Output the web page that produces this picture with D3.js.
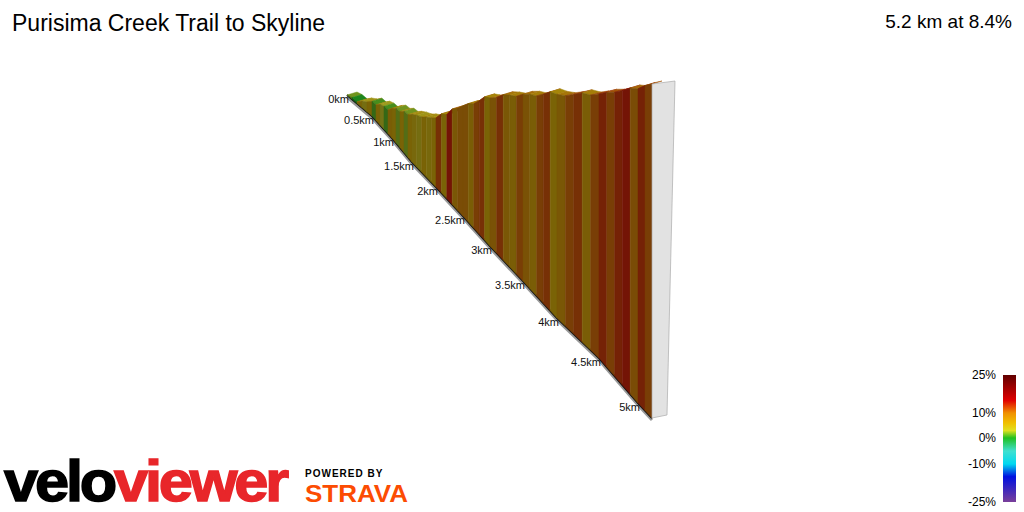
<!DOCTYPE html>
<html>
<head>
<meta charset="UTF-8">
<script src="https://d3js.org/d3.v7.min.js"></script>
<style>
  body { margin: 0; background: #fff; }
  text { font-family: "Liberation Sans", Arial, sans-serif; }
</style>
</head>
<body>
<svg id="chart" width="1024" height="512"></svg>
<script>
// distance (km) and elevation gain (m)
const distKm = [0, 0.1, 0.2, 0.3, 0.4, 0.5, 0.6, 0.7, 0.8, 0.9, 1.0, 1.1, 1.2, 1.3, 1.4, 1.5, 1.6, 1.7, 1.8, 1.9, 2.0,
                2.1, 2.2, 2.3, 2.4, 2.5, 2.6, 2.7, 2.8, 2.9, 3.0, 3.1, 3.2, 3.3, 3.4, 3.5, 3.6, 3.7, 3.8, 3.9, 4.0,
                4.1, 4.2, 4.3, 4.4, 4.5, 4.6, 4.7, 4.8, 4.9, 5.0, 5.1, 5.2];
const elev = [0, 2, 2, 8, 12, 18, 19, 25, 28, 29, 36, 42, 44, 50, 52, 58, 63, 67, 73, 78, 84,
              96, 102, 116, 124, 134, 144, 151, 162, 174, 180, 189, 201, 209, 216, 227, 236, 243, 254, 266, 272,
              280, 291, 303, 310, 321, 334, 345, 358, 372, 382, 395, 406];
const kmTicks = [0, 0.5, 1, 1.5, 2, 2.5, 3, 3.5, 4, 4.5, 5];
// where each tick sits along the receding baseline (perspective)
const baseX = [347, 372, 392, 412, 436, 463, 490, 523, 557, 599, 638, 652];
const baseY = [95, 116, 138, 162, 187, 216, 246, 281, 318, 358, 403, 418];
const legendPct = [25, 10, 0, -10, -25];
const gradStops = [-25, -15, -10, -5, 0, 3, 6, 10, 15, 25];
const gradColors = ["#7a3f9a", "#0010e0", "#00d8f0", "#40e0d0", "#20c020", "#e0e020", "#f0c000", "#f09000", "#e00000", "#600000"];
const title = "Purisima Creek Trail to Skyline";
const summary = "5.2 km at 8.4%";

const svg = d3.select("#chart");
const color = d3.scaleLinear().domain(gradStops).range(gradColors).clamp(true);
// the profile walls are shaded: darker and a little greyer than the legend
const shade = (p, k) => {
  const c = d3.hsl(color(p));
  c.s *= 0.9;
  return c.darker(k).formatHex();
};

const baseDom = kmTicks.concat([5.2]);
const bx = d3.scaleLinear().domain(baseDom).range(baseX);
const by = d3.scaleLinear().domain(baseDom).range(baseY);
const ez = d3.scaleLinear().domain([0, 406]).range([0, 334]);
const depth = [10, -3];

svg.append("text").attr("x", 12).attr("y", 31).attr("font-size", 23).text(title);
svg.append("text").attr("x", 1012).attr("y", 28).attr("font-size", 19)
  .attr("text-anchor", "end").text(summary);

const g = svg.append("g");
const basePts = baseDom.map(d => [bx(d), by(d)]);
g.append("path").attr("d", d3.line()(basePts.map(p => [p[0], p[1] + 2])))
  .attr("fill", "none").attr("stroke", "#999").attr("stroke-width", 3);
g.append("path").attr("d", d3.line()(basePts))
  .attr("fill", "none").attr("stroke", "#111").attr("stroke-width", 2);

const segs = d3.range(distKm.length - 1).map(i => {
  const d0 = distKm[i], d1 = distKm[i + 1];
  const grad = (elev[i + 1] - elev[i]) / ((d1 - d0) * 1000) * 100;
  return { d0, d1, e0: elev[i], e1: elev[i + 1], grad };
});

const pt = (d, e) => [bx(d), by(d) - ez(e)];
g.selectAll("polygon.top").data(segs).join("polygon").attr("class", "top")
  .attr("points", s => {
    const a = pt(s.d0, s.e0), b = pt(s.d1, s.e1);
    return [a, b, [b[0] + depth[0], b[1] + depth[1]], [a[0] + depth[0], a[1] + depth[1]]].join(" ");
  })
  .attr("fill", s => shade(s.grad, 0.9))
  .attr("stroke", s => shade(s.grad, 0.9)).attr("stroke-width", 0.5);
g.selectAll("polygon.side").data(segs).join("polygon").attr("class", "side")
  .attr("points", s => [pt(s.d0, 0), pt(s.d1, 0), pt(s.d1, s.e1), pt(s.d0, s.e0)].join(" "))
  .attr("fill", s => shade(s.grad, 1.75))
  .attr("stroke", s => shade(s.grad, 1.75)).attr("stroke-width", 0.5);
const eb = pt(5.2, 0), et = pt(5.2, 406);
g.append("polygon")
  .attr("points", [eb, [eb[0] + 15, eb[1] - 3], [et[0] + depth[0] + 13, et[1] + depth[1]], et].join(" "))
  .attr("fill", "#e2e2e2").attr("stroke", "#aaa").attr("stroke-width", 0.7);

g.selectAll("text.km").data(kmTicks).join("text").attr("class", "km")
  .attr("x", d => bx(d) + 2).attr("y", d => by(d) + 8)
  .attr("text-anchor", "end").attr("font-size", 11).attr("fill", "#111")
  .text(d => d + "km");

// legend
const ly = d3.scaleLinear().domain(legendPct).range([375, 413, 438, 464, 502]);
const defs = svg.append("defs");
const lg = defs.append("linearGradient").attr("id", "lgrad").attr("x1", 0).attr("y1", 0).attr("x2", 0).attr("y2", 1);
gradStops.slice().reverse().forEach(p => {
  lg.append("stop").attr("offset", (ly(p) - 375) / 127).attr("stop-color", color(p));
});
svg.append("rect").attr("x", 1003).attr("y", 375).attr("width", 13).attr("height", 127).attr("fill", "url(#lgrad)");
svg.selectAll("text.leg").data(legendPct).join("text").attr("class", "leg")
  .attr("x", 996).attr("y", d => ly(d) + 4).attr("text-anchor", "end").attr("font-size", 12)
  .text(d => d + "%");

// logos
const logo = svg.append("text").attr("x", 4).attr("y", 501).attr("font-size", 58).attr("font-weight", "bold")
  .attr("stroke-width", 1.5).attr("letter-spacing", -3).attr("textLength", 282).attr("lengthAdjust", "spacingAndGlyphs");
logo.append("tspan").attr("fill", "#000").attr("stroke", "#000").text("velo");
logo.append("tspan").attr("fill", "#e8262a").attr("stroke", "#e8262a").text("viewer");
svg.append("text").attr("x", 305).attr("y", 477).attr("font-size", 10).attr("font-weight", "bold")
  .attr("letter-spacing", 1).text("POWERED BY");
svg.append("text").attr("x", 305).attr("y", 502).attr("font-size", 23).attr("font-weight", "bold")
  .attr("fill", "#fc4c02").attr("textLength", 103).attr("lengthAdjust", "spacingAndGlyphs").text("STRAVA");
</script>
</body>
</html>
